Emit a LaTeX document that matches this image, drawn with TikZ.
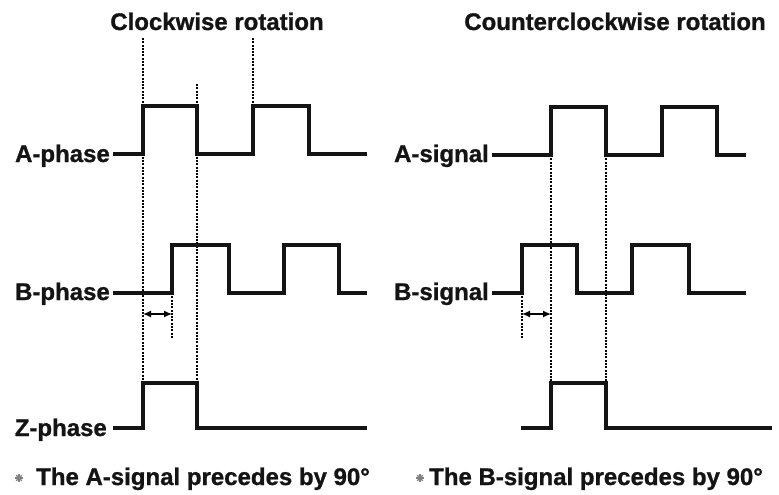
\documentclass[tikz,border=0pt]{standalone}
\usepackage{fontspec}
\setmainfont[BoldFeatures={FakeBold=1}]{Liberation Sans}
\usetikzlibrary{arrows.meta,calc}
\begin{document}
\begin{tikzpicture}[x=1pt,y=-1pt,
  wave/.style={line width=3.6pt, line join=miter, line cap=butt, black!92},
  guide/.style={line width=2.1pt, dash pattern=on 2pt off 1.3pt, black},
  span/.style={line width=1.4pt, {Latex[length=8pt,width=7pt]}-{Latex[length=8pt,width=7pt]}},
  lbl/.style={font=\fontsize{24}{28}\selectfont\bfseries, inner sep=0pt, text=black!92},
  starline/.style={line width=1.3pt, black!50}]
\useasboundingbox (0,0) rectangle (779,495);
% titles
\node[lbl, anchor=base] (t1) at (217,30) {Clockwise rotation};
\node[lbl, anchor=base] (t2) at (615,30) {Counterclockwise rotation};
% left labels
\node[lbl, anchor=base east] (la) at (110,162) {A-phase};
\node[lbl, anchor=base east] (lb) at (110,300) {B-phase};
\node[lbl, anchor=base east] (lz) at (107,436) {Z-phase};
% right labels
\node[lbl, anchor=base east] (ra) at (489,162) {A-signal};
\node[lbl, anchor=base east] (rb) at (489,300) {B-signal};
% footnotes
\node[lbl, anchor=base west] (f1) at (36,485) {The A-signal precedes by 90\textdegree};
\node[lbl, anchor=base west] (f2) at (429,485) {The B-signal precedes by 90\textdegree};
% footnote marks
\foreach \cx/\cy in {19/478, 420/478}{
  \foreach \a in {0,45,90,135}{
    \draw[starline] ($(\cx,\cy)+(\a:4)$) -- ($(\cx,\cy)+(\a+180:4)$);
  }
}
% left guides
\draw[guide] (143,38) -- (143,383);
\draw[guide] (197,84) -- (197,383);
\draw[guide] (253,38) -- (253,106);
\draw[guide] (172,293) -- (172,338);
\draw[span] (143,314) -- (172,314);
% right guides
\draw[guide] (551,155) -- (551,383);
\draw[guide] (606,155) -- (606,383);
\draw[guide] (522,293) -- (522,338);
\draw[span] (522,314) -- (551,314);
% left waves
\draw[wave] (113,154) -- (143,154) -- (143,106) -- (197,106) -- (197,154) -- (253,154) -- (253,106) -- (309,106) -- (309,154) -- (367,154);
\draw[wave] (113,293) -- (172,293) -- (172,245) -- (229,245) -- (229,293) -- (284,293) -- (284,245) -- (339,245) -- (339,293) -- (367,293);
\draw[wave] (113,428) -- (143,428) -- (143,383) -- (197,383) -- (197,428) -- (367,428);
% right waves
\draw[wave] (492,155) -- (551,155) -- (551,107) -- (606,107) -- (606,155) -- (662,155) -- (662,107) -- (717,107) -- (717,155) -- (746,155);
\draw[wave] (492,293) -- (522,293) -- (522,245) -- (577,245) -- (577,293) -- (632,293) -- (632,245) -- (689,245) -- (689,293) -- (746,293);
\draw[wave] (521,428) -- (551,428) -- (551,383) -- (606,383) -- (606,428) -- (772,428);
\end{tikzpicture}
\end{document}
